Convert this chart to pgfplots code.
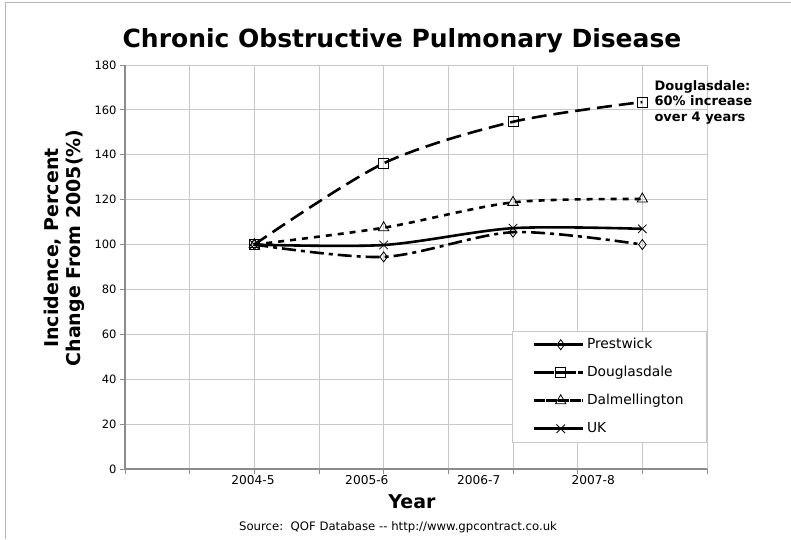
\documentclass[border=0pt]{standalone}
\usepackage{fontspec}
\setmainfont{DejaVu Sans}
\usepackage{pgfplots}
\pgfplotsset{compat=1.18}
\definecolor{gridc}{HTML}{C8C8C8}
\definecolor{axc}{HTML}{8C8C8C}
\definecolor{frame}{HTML}{B4B4B4}
\begin{document}
\begin{tikzpicture}[x=1pt,y=1pt]
\path[use as bounding box] (0,0) rectangle (791,539);
\draw[frame, line width=0.8pt] (5,0) -- (5,537) -- (791,537);
\begin{axis}[
  at={(125pt,70pt)}, anchor=south west, scale only axis,
  width=582pt, height=404pt,
  xmin=0, xmax=9, ymin=0, ymax=180,
  xtick={0,...,9}, xticklabels={},
  extra x ticks={1.98,3.74,5.47,7.24},
  extra x tick labels={2004-5,2005-6,2006-7,2007-8},
  extra x tick style={grid=none, major tick length=0pt,
    xticklabel style={font=\fontsize{12.2}{14}\selectfont, yshift=-3pt}},
  ytick={0,20,...,180},
  grid=major, major grid style={gridc, line width=0.8pt},
  axis lines=left, axis line style={axc, line width=1.5pt, -},
  tick style={axc, line width=0.8pt}, tick align=outside, major tick length=5pt,
  /pgf/number format/assume math mode=true,
  ticklabel style={font=\fontsize{11.5}{13}\selectfont},
  legend style={at={(0.665,0.342)}, anchor=north west, draw=gridc, line width=0.8pt,
    fill=white, font=\fontsize{13.8}{16}\selectfont, inner xsep=20pt, inner ysep=4pt,
    row sep=9pt, nodes={inner sep=3pt, text height=10pt, text depth=3pt}},
  legend cell align=left,
  legend image code/.code={\path (-5pt,0pt) -- (44pt,0pt);\draw[mark repeat=2, mark phase=2] plot coordinates {(0pt,0pt) (22pt,0pt) (44pt,0pt)};},
]
\addplot[black, line width=2.6pt, smooth, dash pattern=on 14pt off 5pt on 4pt off 5pt,
  mark=diamond, mark options={solid, line width=0.8pt, mark size=5pt}]
  coordinates {(2,100) (4,94.5) (6,105.5) (8,100)};
\addlegendentry{Prestwick}
\addplot[black, line width=2.6pt, smooth, dash pattern=on 15pt off 7pt,
  mark=square, mark options={solid, line width=0.8pt, mark size=5pt}]
  coordinates {(2,100) (4,136.2) (6,154.7) (8,163.5)};
\addlegendentry{Douglasdale}
\addplot[black, line width=2.6pt, smooth, dash pattern=on 6pt off 6pt,
  mark=triangle, mark options={solid, line width=0.8pt, mark size=6pt}]
  coordinates {(2,100) (4,107.5) (6,118.8) (8,120.3)};
\addlegendentry{Dalmellington}
\addplot[black, line width=2.6pt, smooth,
  mark=x, mark options={solid, line width=0.8pt, mark size=6pt}]
  coordinates {(2,100) (4,99.8) (6,107.3) (8,107)};
\addlegendentry{UK}
\end{axis}
\node[font=\bfseries\fontsize{25}{30}\selectfont] at (402,498) {Chronic Obstructive Pulmonary Disease};
\node[rotate=90, align=center, font=\bfseries\fontsize{19}{22}\selectfont] at (64,291) {Incidence, Percent\\Change From 2005(\%)};
\node[font=\bfseries\fontsize{19}{22}\selectfont] at (412,37) {Year};
\node[font=\fontsize{11.7}{13}\selectfont] at (398,12) {Source:\ \ QOF Database -{}- http://www.gpcontract.co.uk};
\node[anchor=west, align=left, font=\bfseries\fontsize{13}{15.5}\selectfont] at (651,437) {Douglasdale:\\60\% increase\\over 4 years};
\end{tikzpicture}
\end{document}
